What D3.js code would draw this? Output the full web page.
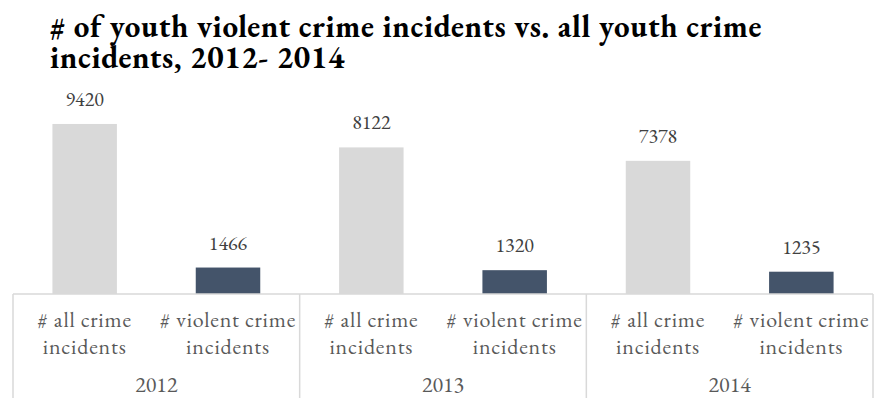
<!DOCTYPE html>
<html>
<head>
<meta charset="utf-8">
<script src="https://cdn.jsdelivr.net/npm/d3@7"></script>
<style>
  html, body { margin: 0; padding: 0; background: #fff; }
  svg { display: block; }
</style>
</head>
<body>
<svg id="chart" width="875" height="398"></svg>
<script>
// Youth crime incidents by year
const years = ["2012", "2013", "2014"];
const measures = ["# all crime incidents", "# violent crime incidents"];
const measureLines = [["# all crime", "incidents"], ["# violent crime", "incidents"]];
const allCrime = [9420, 8122, 7378];
const violentCrime = [1466, 1320, 1235];
const titleLines = ["# of youth violent crime incidents vs. all youth crime", "incidents, 2012- 2014"];

const colors = ["#d9d9d9", "#44546a"];
const serif = "EB Garamond, Liberation Serif, serif";

const svg = d3.select("#chart");
const W = 875, H = 398;
const margin = { left: 13, right: 2, top: 113.5, bottom: 104 };
const plotBottom = H - margin.bottom; // 294

// Flattened category list: one entry per (year, measure)
const rows = [];
years.forEach((yr, i) => {
  rows.push({ year: yr, m: 0, value: allCrime[i] });
  rows.push({ year: yr, m: 1, value: violentCrime[i] });
});
rows.forEach((r, i) => r.key = i);

const x = d3.scaleBand()
  .domain(rows.map(r => r.key))
  .range([margin.left, W - margin.right])
  .paddingInner(0.55)
  .paddingOuter(0.275);

const xCat = d3.scaleBand()
  .domain(rows.map(r => r.key))
  .range([margin.left, W - margin.right]);

const xYear = d3.scaleBand()
  .domain(years)
  .range([margin.left, W - margin.right]);

const y = d3.scaleLinear()
  .domain([0, 10000])
  .range([plotBottom, margin.top]);

// Title
svg.append("g")
  .selectAll("text")
  .data(titleLines)
  .join("text")
  .attr("x", 50)
  .attr("y", (d, i) => 37 + i * 31)
  .style("font-family", serif)
  .style("font-weight", "bold")
  .style("font-size", "31px")
  .style("letter-spacing", "0.65px")
  .attr("fill", "#000")
  .text(d => d);

// Bars
svg.append("g")
  .selectAll("rect")
  .data(rows)
  .join("rect")
  .attr("x", d => x(d.key))
  .attr("width", x.bandwidth())
  .attr("y", d => y(d.value))
  .attr("height", d => plotBottom - y(d.value))
  .attr("fill", d => colors[d.m]);

// Value labels
svg.append("g")
  .selectAll("text")
  .data(rows)
  .join("text")
  .attr("x", d => x(d.key) + x.bandwidth() / 2)
  .attr("y", d => y(d.value) - 18)
  .attr("text-anchor", "middle")
  .style("font-family", serif)
  .style("font-size", "20px")
  .attr("fill", "#404040")
  .text(d => d.value);

// Multi-level category axis
const axis = svg.append("g");
const lineColor = "#d9d9d9";

axis.append("line")
  .attr("x1", margin.left).attr("x2", W - margin.right)
  .attr("y1", plotBottom).attr("y2", plotBottom)
  .attr("stroke", lineColor).attr("stroke-width", 1.5);

const dividers = years.map(yr => xYear(yr)).concat([W - margin.right]);
axis.selectAll("line.div")
  .data(dividers)
  .join("line")
  .attr("class", "div")
  .attr("x1", d => d).attr("x2", d => d)
  .attr("y1", plotBottom).attr("y2", H)
  .attr("stroke", lineColor).attr("stroke-width", 1.5);

const catLabels = axis.selectAll("text.cat")
  .data(rows)
  .join("text")
  .attr("class", "cat")
  .attr("x", d => xCat(d.key) + xCat.bandwidth() / 2)
  .attr("y", 327)
  .attr("text-anchor", "middle")
  .style("font-family", serif)
  .style("font-size", "22px")
  .style("letter-spacing", "0.8px")
  .attr("fill", "#595959");

catLabels.selectAll("tspan")
  .data(d => measureLines[d.m].map((t, i) => ({ t, i, cx: xCat(d.key) + xCat.bandwidth() / 2 })))
  .join("tspan")
  .attr("x", d => d.cx)
  .attr("dy", d => d.i === 0 ? 0 : 26.5)
  .text(d => d.t);

axis.selectAll("text.year")
  .data(years)
  .join("text")
  .attr("class", "year")
  .attr("x", d => xYear(d) + xYear.bandwidth() / 2)
  .attr("y", 392)
  .attr("text-anchor", "middle")
  .style("font-family", serif)
  .style("font-size", "22px")
  .attr("fill", "#595959")
  .text(d => d);
</script>
</body>
</html>
